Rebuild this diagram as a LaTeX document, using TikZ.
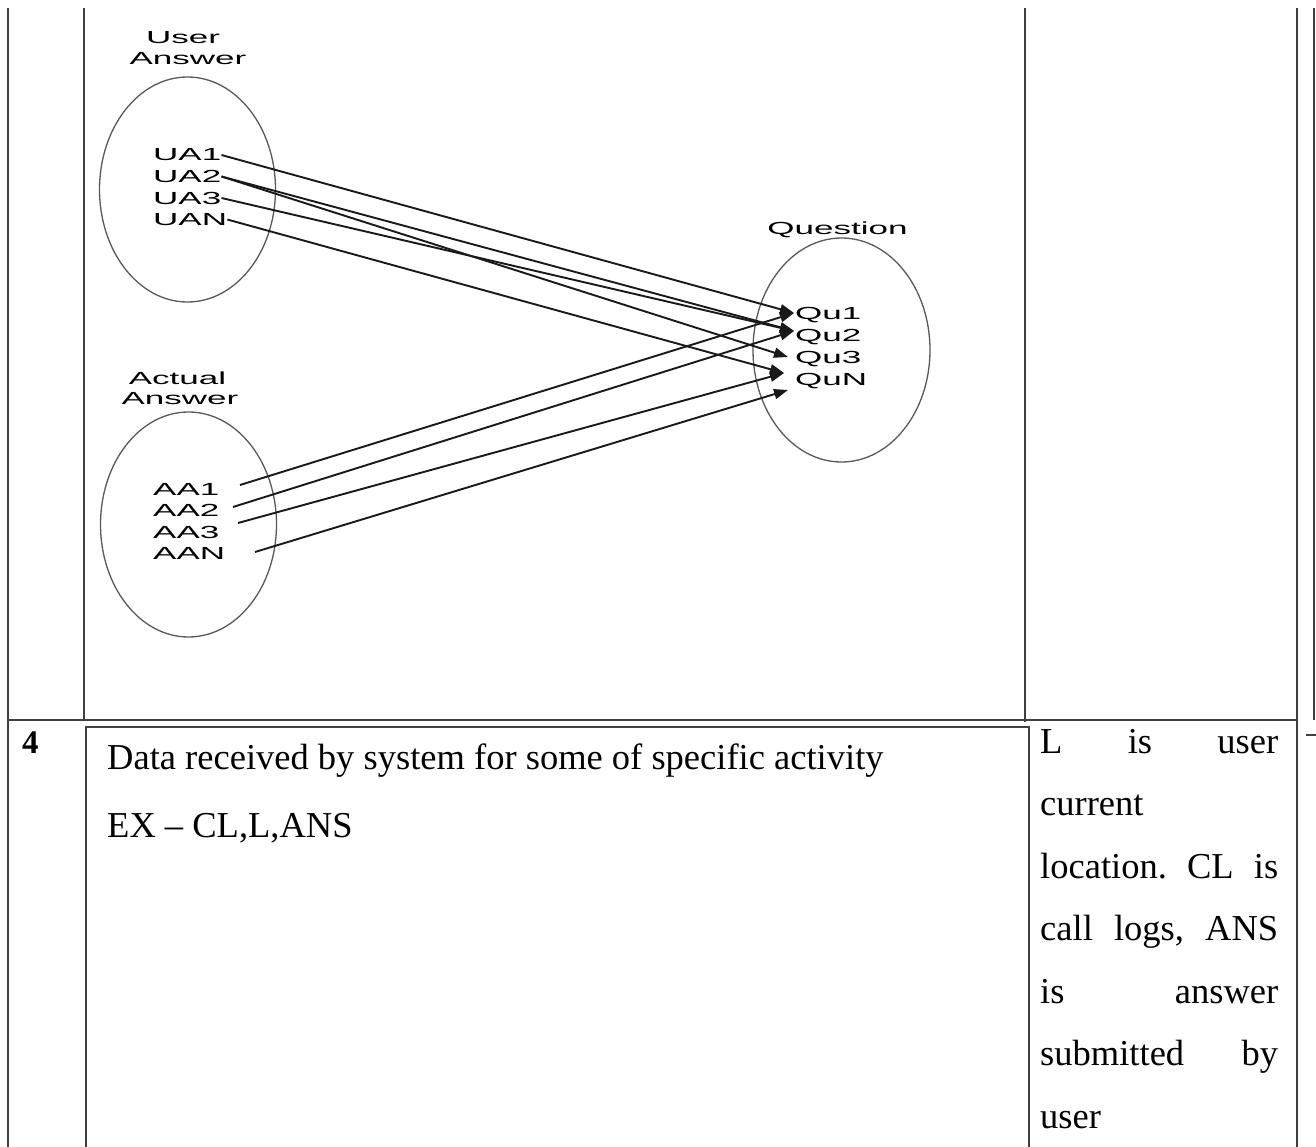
\documentclass[tikz,border=0pt]{standalone}
\usepackage{fontspec}
\setmainfont{Liberation Serif}
\setsansfont{Liberation Sans}
\usetikzlibrary{shapes.geometric,arrows.meta}
\newcommand{\wide}[1]{\scalebox{2}[1]{#1}}
\begin{document}
\begin{tikzpicture}[x=1pt,y=-1pt,
  rule/.style={line width=2.6pt,draw=black!75},
  setshape/.style={ellipse,draw=black!65,line width=1.3pt,inner sep=0pt,
    minimum width=176pt,minimum height=225pt},
  item/.style={font=\sffamily\fontsize{17.5}{20}\selectfont,inner sep=0pt,anchor=west},
  title/.style={font=\sffamily\fontsize{17.5}{20}\selectfont,inner sep=0pt},
  link/.style={line width=1.9pt,draw=black!90,
    -{Triangle[length=14pt,width=10pt]}},
  body/.style={font=\fontsize{36.5}{40}\selectfont,inner sep=0pt,anchor=base west},
]
\useasboundingbox[fill=white] (0,0) rectangle (1316,1147);

% table rules
\draw[rule] (8,8) -- (8,1147);
\draw[rule] (84,8) -- (84,720);
\draw[rule] (1025,8) -- (1025,722);
\draw[rule] (1297,8) -- (1297,1147);
\draw[rule] (1314,8) -- (1314,720);
\draw[rule] (8,720) -- (1297,720);
\draw[rule] (86,1147) -- (86,727) -- (1029,727) -- (1029,1147);
\draw[rule,line width=1.6pt] (1306,735) -- (1316,735);

% sets
\node[setshape] (uset) at (187.5,189.5) {};
\node[setshape] (aset) at (188.5,524.5) {};
\node[setshape,minimum width=177pt,minimum height=224pt] (qset) at (841.5,350) {};

\node[title] (utitle1) at (183,38) {\wide{User}};
\node[title] (utitle2) at (188,59) {\wide{Answer}};
\node[title] (atitle1) at (177.5,378) {\wide{Actual}};
\node[title] (atitle2) at (180,399) {\wide{Answer}};
\node[title] (qtitle) at (837.5,230) {\wide{Question}};

\node[item] (ua1) at (153,155) {\wide{UA1}};
\node[item] (ua2) at (153,176.5) {\wide{UA2}};
\node[item] (ua3) at (153,198) {\wide{UA3}};
\node[item] (uan) at (153,219.5) {\wide{UAN}};

\node[item] (aa1) at (153,489) {\wide{AA1}};
\node[item] (aa2) at (153,510.5) {\wide{AA2}};
\node[item] (aa3) at (153,532) {\wide{AA3}};
\node[item] (aan) at (153,553.5) {\wide{AAN}};

\node[item] (qu1) at (795,315) {\wide{Qu1}};
\node[item] (qu2) at (795,337) {\wide{Qu2}};
\node[item] (qu3) at (795,359) {\wide{Qu3}};
\node[item] (qun) at (795,381) {\wide{QuN}};

% arrow tips near the questions
\coordinate (t1) at (794,313);
\coordinate (t2) at (794,331);
\coordinate (t3) at (788,357);
\coordinate (t4) at (784,373);
\coordinate (t5) at (788,390);

% start points of the actual-answer links
\coordinate (s1) at (240,485);
\coordinate (s2) at (233,507);
\coordinate (s3) at (238,523);
\coordinate (s4) at (255,552);

\draw[link] (ua1.east) -- (t1);
\draw[link] (ua2.east) -- (t2);
\draw[link] (ua2.east) -- (t3);
\draw[link] (ua3.east) -- (t2);
\draw[link] (uan.east) -- (t4);

\draw[link] (s1) -- (t1);
\draw[link] (s2) -- (t2);
\draw[link] (s3) -- (t4);
\draw[link] (s4) -- (t5);

% lower row
\node[font=\bfseries\fontsize{33}{36}\selectfont,inner sep=0pt,anchor=base west] (num) at (22,753) {4};
\node[body] (data) at (107,769) {Data received by system for some of specific activity};
\node[body] (ex) at (107,837) {EX – CL,L,ANS};

\node[body] (r1) at (1040,753) {\hbox to 238pt{L\hfill is\hfill user}};
\node[body] (r2) at (1040,815.5) {\hbox to 238pt{current\hfill}};
\node[body] (r3) at (1040,878) {\hbox to 238pt{location.\hfill CL\hfill is}};
\node[body] (r4) at (1040,940.5) {\hbox to 238pt{call\hfill logs,\hfill ANS}};
\node[body] (r5) at (1040,1003) {\hbox to 238pt{is\hfill answer}};
\node[body] (r6) at (1040,1065.5) {\hbox to 238pt{submitted\hfill by}};
\node[body] (r7) at (1040,1128) {\hbox to 238pt{user\hfill}};
\end{tikzpicture}
\end{document}
